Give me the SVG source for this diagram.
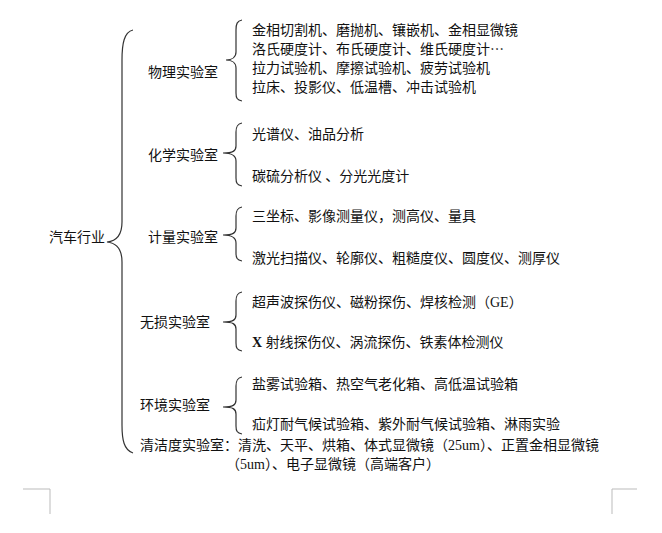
<svg xmlns="http://www.w3.org/2000/svg" width="662" height="533" viewBox="0 0 662 533">
<style>
text{font-family:"Noto Sans CJK SC","Noto Sans",sans-serif;font-size:14px;fill:#111}
.lat{font-family:"Liberation Serif",serif;font-size:14px}
.br{fill:none;stroke:#333;stroke-width:1.2}
.crn{fill:none;stroke:#bbb;stroke-width:1}
</style>
<rect width="662" height="533" fill="#fff"/>
<g id="connectors">
<path class="br" d="M133,30 C124,32 122,44 122,60 L122,222 C122,234 117,241 107,242 C117,243 122,250 122,262 L122,425 C122,440 124,450 133,453"/>
<path class="br" d="M242,20 C237,21 236,24 236,30 L236,52 C236,57 232,60 226,60 C232,60 236,63 236,68 L236,93 C236,98 237,100 242,101"/>
<path class="br" d="M242,123 C237,124 236,127 236,132 L236,146 C236,151 233,153 223,153 C233,153 236,156 236,161 L236,178 C236,183 237,185 242,186"/>
<path class="br" d="M242,207 C237,208 236,211 236,216 L236,228 C236,233 233,235 223,235 C233,235 236,238 236,243 L236,253 C236,258 237,260 242,261"/>
<path class="br" d="M242,292 C237,293 236,296 236,301 L236,315 C236,320 233,322 223,322 C233,322 236,324 236,329 L236,343 C236,348 237,350 242,351"/>
<path class="br" d="M242,377 C237,378 236,381 236,386 L236,400 C236,405 233,407 223,407 C233,407 236,409 236,414 L236,426 C236,431 237,433 242,434"/>
</g>
<g id="root"><text x="49" y="242">汽车行业</text></g>
<g id="physics">
<text x="148" y="77">物理实验室</text>
<text x="252" y="35">金相切割机、磨抛机、镶嵌机、金相显微镜</text>
<text x="252" y="54">洛氏硬度计、布氏硬度计、维氏硬度计…</text>
<text x="252" y="73">拉力试验机、摩擦试验机、疲劳试验机</text>
<text x="252" y="92">拉床、投影仪、低温槽、冲击试验机</text>
</g>
<g id="chemistry">
<text x="148" y="160">化学实验室</text>
<text x="252" y="139">光谱仪、油品分析</text>
<text x="252" y="181">碳硫分析仪 、分光光度计</text>
</g>
<g id="metrology">
<text x="148" y="242">计量实验室</text>
<text x="252" y="221">三坐标、影像测量仪，测高仪、量具</text>
<text x="252" y="263">激光扫描仪、轮廓仪、粗糙度仪、圆度仪、测厚仪</text>
</g>
<g id="ndt">
<text x="140" y="327">无损实验室</text>
<text x="252" y="307">超声波探伤仪、磁粉探伤、焊核检测（<tspan class="lat">GE</tspan>）</text>
<text x="252" y="347"><tspan class="lat" font-weight="bold">X </tspan>射线探伤仪、涡流探伤、铁素体检测仪</text>
</g>
<g id="environment">
<text x="140" y="410">环境实验室</text>
<text x="252" y="389">盐雾试验箱、热空气老化箱、高低温试验箱</text>
<text x="252" y="429">疝灯耐气候试验箱、紫外耐气候试验箱、淋雨实验</text>
</g>
<g id="cleanliness">
<text x="140" y="450">清洁度实验室：清洗、天平、烘箱、体式显微镜（<tspan class="lat">25um</tspan>）、正置金相显微镜</text>
<text x="226" y="469">（<tspan class="lat">5um</tspan>）、电子显微镜（高端客户）</text>
</g>
<g id="corners">
<path class="crn" d="M23,489 H50 V514"/>
<path class="crn" d="M637,489 H612 V514"/>
</g>
</svg>
